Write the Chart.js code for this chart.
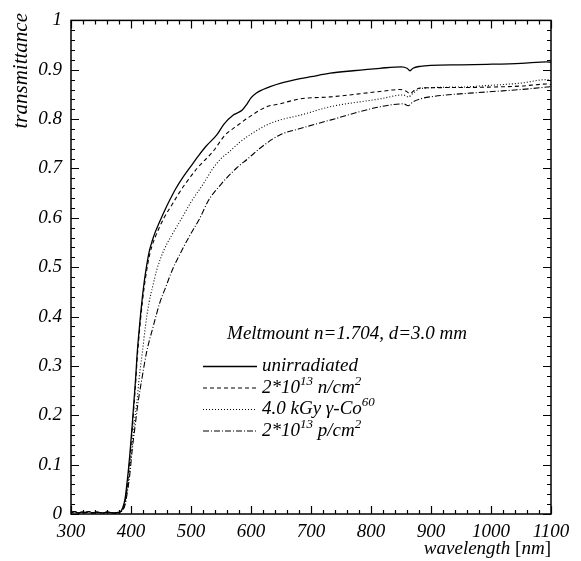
<!DOCTYPE html>
<html><head><meta charset="utf-8">
<script src="https://cdn.jsdelivr.net/npm/chart.js@4/dist/chart.umd.min.js"></script>
<style>html,body{margin:0;padding:0;background:#fff}#wrap{width:581px;height:561px}</style>
</head><body><div id="wrap"><canvas id="c" width="581" height="561"></canvas></div>
<script>
// ---- data ----
const xTickLabels = ['300','400','500','600','700','800','900','1000','1100'];
const yTickLabels = ['0','0.1','0.2','0.3','0.4','0.5','0.6','0.7','0.8','0.9','1'];
const xTitle = 'wavelength';
const xUnit = 'nm';
const yTitle = 'transmittance';
const legendTitle = 'Meltmount n=1.704, d=3.0 mm';
const seriesNames = ['unirradiated', '2*10^{13} n/cm^{2}', '4.0 kGy \u03b3-Co^{60}', '2*10^{13} p/cm^{2}'];

const baseWl = [300,306,312,318,324,330,336,342,348,354,360,366,372,378,382];
const baseT  = [0.003,0.005,0.002,0.004,0.003,0.005,0.002,0.004,0.003,0.002,0.004,0.003,0.002,0.003,0.004];

const unirrWl = [386,390,394,398,402,405,408,410,413,416,419,422,425,428,431,435,440,447,455,465,475,487,500,512,525,543,555,570,578,585,593,600,609,620,632,650,682,700,732,770,815,851,860,865,870,882,900,950,993,1050,1093,1100];
const unirrT  = [0.012,0.03,0.07,0.12,0.18,0.23,0.28,0.32,0.365,0.405,0.44,0.47,0.495,0.517,0.535,0.552,0.57,0.59,0.612,0.637,0.66,0.683,0.705,0.725,0.745,0.768,0.79,0.808,0.813,0.818,0.83,0.843,0.853,0.86,0.866,0.873,0.882,0.886,0.893,0.898,0.903,0.906,0.903,0.898,0.903,0.907,0.909,0.910,0.911,0.913,0.916,0.915];

const neutWl = [386,390,394,398,402,405,408,410,413,416,419,422,425,428,431,435,440,447,455,469,480,490,510,537,557,575,593,626,648,682,732,815,848,858,865,872,882,950,1000,1050,1093,1100];
const neutT  = [0.010,0.025,0.06,0.11,0.17,0.22,0.27,0.31,0.355,0.395,0.43,0.46,0.485,0.507,0.525,0.543,0.56,0.58,0.60,0.628,0.65,0.668,0.70,0.735,0.768,0.785,0.801,0.825,0.831,0.841,0.845,0.856,0.860,0.857,0.852,0.858,0.863,0.864,0.865,0.867,0.871,0.870];

const gammaWl = [386,390,394,398,402,406,410,414,419,424,430,436,443,455,468,485,500,520,537,550,565,580,598,626,648,682,732,815,854,862,870,882,950,993,1050,1093,1100];
const gammaT  = [0.008,0.02,0.05,0.09,0.14,0.19,0.228,0.28,0.328,0.38,0.428,0.46,0.495,0.535,0.565,0.60,0.632,0.668,0.701,0.72,0.735,0.752,0.768,0.788,0.798,0.808,0.825,0.841,0.849,0.845,0.852,0.862,0.865,0.868,0.873,0.880,0.878];

const protWl = [386,390,394,398,402,407,412,419,426,437,448,458,469,483,497,515,529,550,576,595,615,648,682,732,815,854,862,870,882,898,993,1050,1093,1100];
const protT  = [0.008,0.018,0.045,0.08,0.13,0.18,0.228,0.28,0.328,0.38,0.428,0.46,0.495,0.53,0.562,0.60,0.635,0.668,0.701,0.72,0.741,0.768,0.781,0.798,0.825,0.831,0.827,0.835,0.841,0.845,0.855,0.86,0.865,0.866];

// ---- build datasets ----
function pts(wl, t){ const a=[]; baseWl.forEach((w,i)=>a.push({x:w,y:baseT[i]})); wl.forEach((w,i)=>a.push({x:w,y:t[i]})); return a; }
const dashes = [[], [4,3], [1,2], [6,2,1,2]];
const widths = [1.3, 1.1, 1.1, 1.1];
const allSeries = [[unirrWl,unirrT],[neutWl,neutT],[gammaWl,gammaT],[protWl,protT]];
const datasets = allSeries.map((s,i)=>({
  label: seriesNames[i], data: pts(s[0], s[1]), borderColor:'#000', borderWidth: widths[i],
  borderDash: dashes[i], pointRadius:0, fill:false, tension:0.3, cubicInterpolationMode:'monotone'
}));

const SERIF = '"Liberation Serif", "DejaVu Serif", serif';

function drawRich(ctx, str, x, y, size){
  const parts = str.split(/(\^\{[^}]*\})/).filter(s=>s.length);
  let cx = x;
  parts.forEach(p=>{
    if (p.startsWith('^{')){
      const t = p.slice(2,-1);
      ctx.font = 'italic ' + Math.round(size*0.68) + 'px ' + SERIF;
      ctx.fillText(t, cx, y - size*0.42);
      cx += ctx.measureText(t).width;
    } else {
      ctx.font = 'italic ' + size + 'px ' + SERIF;
      ctx.fillText(p, cx, y);
      cx += ctx.measureText(p).width;
    }
  });
}

const framePlugin = {
  id: 'frame',
  afterDraw(chart){
    const ctx = chart.ctx, a = chart.chartArea, xs = chart.scales.x, ys = chart.scales.y;
    ctx.save();
    ctx.strokeStyle = '#000'; ctx.lineWidth = 1.5;
    ctx.strokeRect(a.left, a.top, a.right - a.left, a.bottom - a.top);
    ctx.lineWidth = 1.2;
    ctx.beginPath();
    for (let v = 300; v <= 1100; v += 20){
      const px = Math.round(xs.getPixelForValue(v)) + 0.5;
      const L = (v % 100 === 0) ? 8 : 4;
      ctx.moveTo(px, a.bottom); ctx.lineTo(px, a.bottom - L);
      ctx.moveTo(px, a.top); ctx.lineTo(px, a.top + L);
    }
    for (let k = 0; k <= 50; k++){
      const v = k / 50;
      const py = Math.round(ys.getPixelForValue(v)) + 0.5;
      const L = (k % 5 === 0) ? 8 : 4;
      ctx.moveTo(a.left, py); ctx.lineTo(a.left + L, py);
      ctx.moveTo(a.right, py); ctx.lineTo(a.right - L, py);
    }
    ctx.stroke();

    ctx.fillStyle = '#000';
    // x title
    ctx.textBaseline = 'alphabetic';
    const fs = 19;
    ctx.font = 'italic ' + fs + 'px ' + SERIF;
    const w1 = ctx.measureText(xTitle + ' ').width;
    const w3 = ctx.measureText(xUnit).width;
    ctx.font = fs + 'px ' + SERIF;
    const wb1 = ctx.measureText('[').width, wb2 = ctx.measureText(']').width;
    let x0 = a.right - (w1 + wb1 + w3 + wb2);
    const yb = 554;
    ctx.font = 'italic ' + fs + 'px ' + SERIF; ctx.fillText(xTitle + ' ', x0, yb); x0 += w1;
    ctx.font = fs + 'px ' + SERIF; ctx.fillText('[', x0, yb); x0 += wb1;
    ctx.font = 'italic ' + fs + 'px ' + SERIF; ctx.fillText(xUnit, x0, yb); x0 += w3;
    ctx.font = fs + 'px ' + SERIF; ctx.fillText(']', x0, yb);

    // y title
    ctx.save();
    ctx.translate(27, 13);
    ctx.rotate(-Math.PI/2);
    ctx.font = 'italic 21px ' + SERIF;
    ctx.textAlign = 'right';
    ctx.fillText(yTitle, 0, 0);
    ctx.restore();

    // legend
    ctx.textAlign = 'left';
    ctx.font = 'italic 19px ' + SERIF;
    const tw = ctx.measureText(legendTitle).width;
    ctx.fillText(legendTitle, 347 - tw/2, 339);
    const rows = [371, 392.5, 414, 435.5];
    rows.forEach((yy, i) => {
      ctx.save();
      ctx.lineWidth = widths[i];
      ctx.setLineDash(dashes[i]);
      ctx.beginPath(); ctx.moveTo(203, yy - 4.5); ctx.lineTo(257, yy - 4.5); ctx.stroke();
      ctx.restore();
      drawRich(ctx, seriesNames[i], 262, yy, 19);
    });
    ctx.restore();
  }
};

new Chart(document.getElementById('c'), {
  type: 'line',
  data: { datasets },
  options: {
    responsive: false, animation: false,
    layout: { padding: { top: 14, right: 30, left: 0, bottom: 0 } },
    plugins: { legend: { display: false }, tooltip: { enabled: false } },
    scales: {
      x: {
        type: 'linear', min: 300, max: 1100, position: 'bottom',
        grid: { display: false, drawTicks: false },
        border: { display: false },
        ticks: { stepSize: 100, autoSkip: false, maxRotation: 0, padding: 7, color: '#000',
          font: { family: SERIF, size: 19, style: 'italic' },
          callback: (v) => { const i = xTickLabels.indexOf(String(v)); return i >= 0 ? xTickLabels[i] : ''; } },
        afterFit: (s) => { s.height = 47; }
      },
      y: {
        type: 'linear', min: 0, max: 1, position: 'left',
        grid: { display: false, drawTicks: false },
        border: { display: false },
        ticks: { stepSize: 0.1, padding: 9, color: '#000',
          font: { family: SERIF, size: 19, style: 'italic' },
          callback: (v) => yTickLabels[Math.round(v * 10)] },
        afterFit: (s) => { s.width = 71; }
      }
    }
  },
  plugins: [framePlugin]
});
</script></body></html>
